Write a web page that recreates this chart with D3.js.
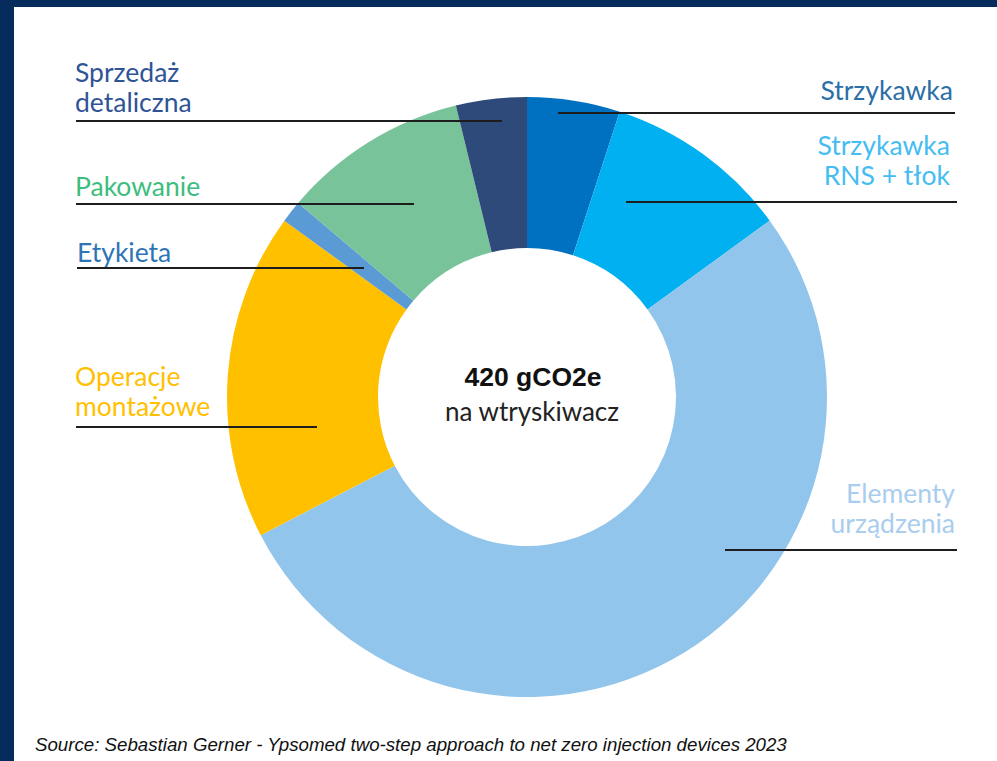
<!DOCTYPE html>
<html>
<head>
<meta charset="utf-8">
<script src="https://cdn.jsdelivr.net/npm/d3@7"></script>
<style>
  html, body { margin: 0; padding: 0; background: #ffffff; }
  svg { display: block; }
</style>
</head>
<body>
<svg id="chart" width="997" height="761"></svg>
<script>
// ---------- data ----------
const categories = ["Strzykawka", "Strzykawka RNS + tłok", "Elementy urządzenia", "Operacje montażowe", "Etykieta", "Pakowanie", "Sprzedaż detaliczna"];
const values = [21, 42, 220, 74, 5, 42, 16]; // gCO2e per injector (total 420)
const labelLines = [["Strzykawka"], ["Strzykawka", "RNS + tłok"], ["Elementy", "urządzenia"], ["Operacje", "montażowe"], ["Etykieta"], ["Pakowanie"], ["Sprzedaż", "detaliczna"]];
const sliceColors = ["#0070C0", "#00B0F0", "#92C5EC", "#FFC000", "#5B9BD5", "#79C39A", "#2E4A7B"];
const labelColors = ["#2B6FA6", "#45BDF2", "#A9CDEE", "#FFC000", "#2E75B6", "#3DBD7D", "#2F5496"];
const totalLabel = "420 gCO2e";
const totalSubLabel = "na wtryskiwacz";
const sourceText = "Source: Sebastian Gerner - Ypsomed two-step approach to net zero injection devices 2023";

// ---------- layout ----------
const W = 997, H = 761;
const cx = 527, cy = 397, rOuter = 300, rInner = 149;
// label placement: text anchor x, first baseline, leader y, leader x range
const labelLayout = [
  { anchor: "end",   tx: 953, ty: 100, ly: 113, lx1: 558, lx2: 955 },
  { anchor: "end",   tx: 950, ty: 155, ly: 202, lx1: 626, lx2: 957 },
  { anchor: "end",   tx: 955, ty: 503, ly: 550, lx1: 725, lx2: 957 },
  { anchor: "start", tx: 75,  ty: 386, ly: 427, lx1: 76,  lx2: 317 },
  { anchor: "start", tx: 77,  ty: 262, ly: 268, lx1: 77,  lx2: 364 },
  { anchor: "start", tx: 75,  ty: 196, ly: 204, lx1: 76,  lx2: 414 },
  { anchor: "start", tx: 75,  ty: 82,  ly: 121, lx1: 76,  lx2: 502 }
];
const lineGap = 30;
const labelFont = "Lato, 'Open Sans', sans-serif";
const labelSize = "26.5px";

const svg = d3.select("#chart");

// frame
svg.append("rect").attr("x", 0).attr("y", 0).attr("width", W).attr("height", H).attr("fill", "#062B5D");
svg.append("rect").attr("x", 14).attr("y", 7).attr("width", W - 14).attr("height", H - 7).attr("fill", "#ffffff");

const color = d3.scaleOrdinal().domain(categories).range(sliceColors);
const labelColor = d3.scaleOrdinal().domain(categories).range(labelColors);

const pie = d3.pie().sort(null).value(d => d.value).startAngle(0).endAngle(2 * Math.PI);
const arc = d3.arc().innerRadius(rInner).outerRadius(rOuter);

const data = categories.map((c, i) => ({ name: c, value: values[i], lines: labelLines[i], layout: labelLayout[i] }));

const g = svg.append("g").attr("transform", `translate(${cx},${cy})`);
g.selectAll("path.slice")
  .data(pie(data))
  .join("path")
  .attr("class", "slice")
  .attr("d", arc)
  .attr("fill", d => color(d.data.name));

// leader lines
svg.append("g").selectAll("line")
  .data(data)
  .join("line")
  .attr("x1", d => d.layout.lx1)
  .attr("x2", d => d.layout.lx2)
  .attr("y1", d => d.layout.ly)
  .attr("y2", d => d.layout.ly)
  .attr("stroke", "#1d1d1d")
  .attr("stroke-width", 2);

// labels
const lbl = svg.append("g").selectAll("text")
  .data(data)
  .join("text")
  .attr("x", d => d.layout.tx)
  .attr("y", d => d.layout.ty)
  .attr("text-anchor", d => d.layout.anchor)
  .attr("fill", d => labelColor(d.name))
  .style("font-family", labelFont)
  .style("font-size", labelSize);
lbl.selectAll("tspan")
  .data(d => d.lines.map((t, i) => ({ t, i, x: d.layout.tx })))
  .join("tspan")
  .attr("x", d => d.x)
  .attr("dy", d => d.i === 0 ? 0 : lineGap)
  .text(d => d.t);

// center text
svg.append("text")
  .attr("x", 533).attr("y", 386)
  .attr("text-anchor", "middle")
  .style("font-family", "'Liberation Sans', Arial, sans-serif")
  .style("font-weight", "bold")
  .style("font-size", "26.5px")
  .attr("fill", "#111")
  .text(totalLabel);
svg.append("text")
  .attr("x", 532).attr("y", 421)
  .attr("text-anchor", "middle")
  .style("font-family", labelFont)
  .style("font-size", "26px")
  .attr("fill", "#222")
  .text(totalSubLabel);

// source
svg.append("text")
  .attr("x", 35).attr("y", 751)
  .style("font-family", "'Liberation Sans', Arial, sans-serif")
  .style("font-style", "italic")
  .style("font-size", "18.7px")
  .attr("fill", "#111")
  .text(sourceText);
</script>
</body>
</html>
